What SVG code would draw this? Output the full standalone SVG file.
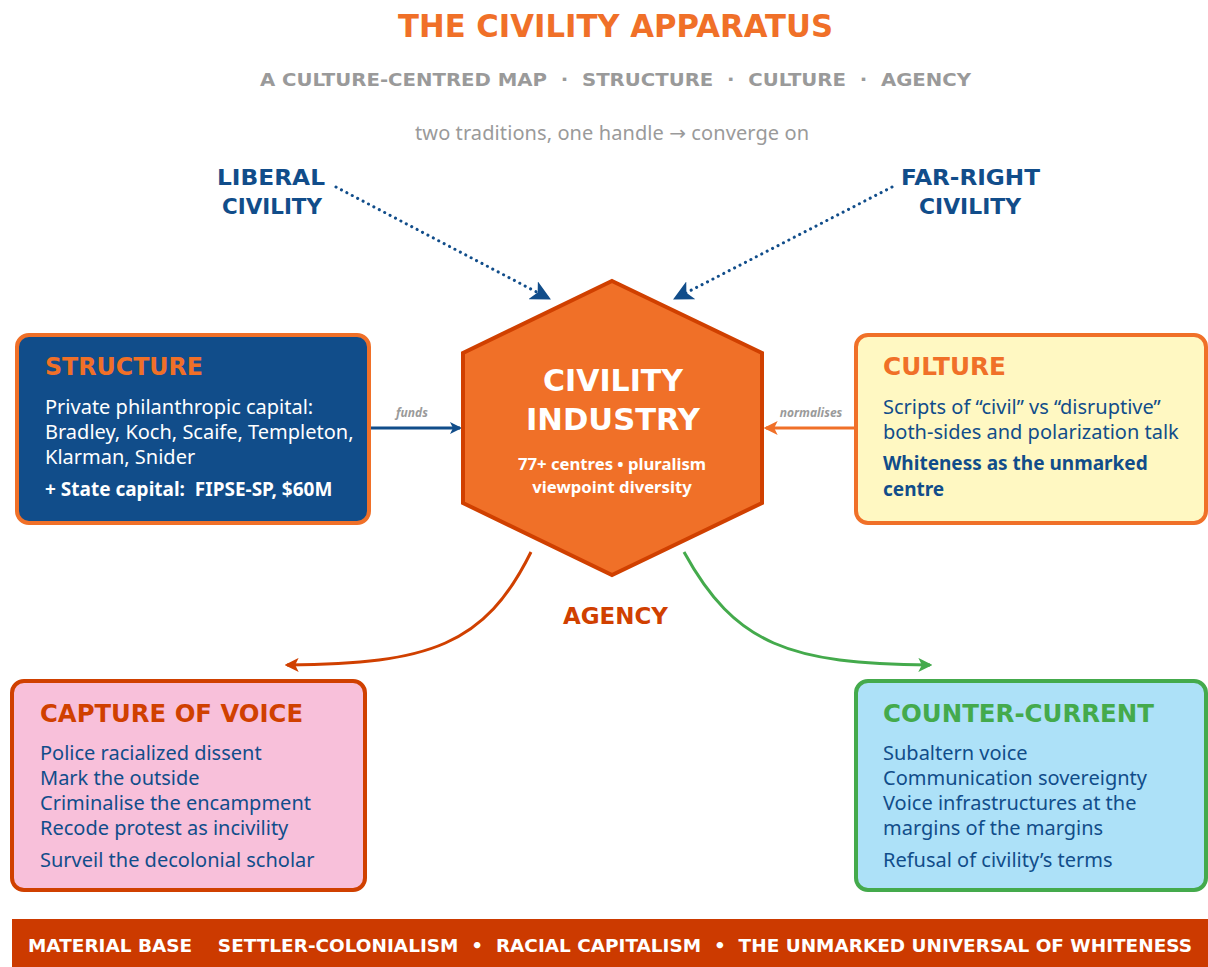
<svg xmlns="http://www.w3.org/2000/svg" width="1208" height="967" viewBox="0 0 1208 967">
  <style>
    .head { font-family: "DejaVu Sans", "Open Sans", sans-serif; font-weight: 700; }
    .body { font-family: "Noto Sans", "Liberation Sans", sans-serif; font-size: 20px; }
    .bold { font-weight: 700; font-size: 19px; }
    .hexnote { font-family: "Noto Sans", "Liberation Sans", sans-serif; font-weight: 700; font-size: 16.7px; }
    .title { font-size: 32px; fill: #F07028; }
    .sub { font-size: 18px; fill: #9A9A9A; }
    .note { font-family: "Noto Sans", sans-serif; font-size: 20px; fill: #9A9A9A; }
    .trad { font-size: 22px; fill: #114D8A; }
    .boxhead { font-size: 24px; }
    .edge-label { font-family: "Noto Sans", sans-serif; font-size: 12px; font-style: italic; font-weight: 700; fill: #9A9A9A; }
    .dotted { fill: none; stroke: #114D8A; stroke-width: 3; stroke-dasharray: 0.1 6; stroke-linecap: round; }
  </style>
  <defs>
    <marker id="arrBlue" viewBox="0 0 12 12" refX="10" refY="6" markerWidth="12" markerHeight="12" markerUnits="userSpaceOnUse" orient="auto">
      <path d="M0,0 L12,6 L0,12 L3,6 Z" fill="#114D8A"/>
    </marker>
    <marker id="arrBlueBig" viewBox="0 0 12 12" refX="10" refY="6" markerWidth="20" markerHeight="20" markerUnits="userSpaceOnUse" orient="auto">
      <path d="M0,0 L12,6 L0,12 L3,6 Z" fill="#114D8A"/>
    </marker>
    <marker id="arrOrange" viewBox="0 0 12 12" refX="10" refY="6" markerWidth="14" markerHeight="14" markerUnits="userSpaceOnUse" orient="auto">
      <path d="M0,0 L12,6 L0,12 L3,6 Z" fill="#F07028"/>
    </marker>
    <marker id="arrRed" viewBox="0 0 12 12" refX="10" refY="6" markerWidth="14" markerHeight="14" markerUnits="userSpaceOnUse" orient="auto">
      <path d="M0,0 L12,6 L0,12 L3,6 Z" fill="#D04000"/>
    </marker>
    <marker id="arrGreen" viewBox="0 0 12 12" refX="10" refY="6" markerWidth="14" markerHeight="14" markerUnits="userSpaceOnUse" orient="auto">
      <path d="M0,0 L12,6 L0,12 L3,6 Z" fill="#44AA4C"/>
    </marker>
  </defs>

  <rect width="1208" height="967" fill="#FFFFFF"/>

  <!-- heading block -->
  <g id="header" text-anchor="middle">
    <text class="head title" x="615.5" y="37" textLength="435" lengthAdjust="spacingAndGlyphs">THE CIVILITY APPARATUS</text>
    <text class="head sub" x="615.5" y="86" textLength="711" lengthAdjust="spacingAndGlyphs" xml:space="preserve">A CULTURE-CENTRED MAP  ·  STRUCTURE  ·  CULTURE  ·  AGENCY</text>
    <text class="note" x="612" y="140" textLength="394">two traditions, one handle <tspan font-family="DejaVu Sans">→</tspan> converge on</text>
  </g>

  <!-- connectors -->
  <g id="connectors">
    <path class="dotted" d="M336,187 L548,298" marker-end="url(#arrBlueBig)"/>
    <path class="dotted" d="M892,187 L676,298" marker-end="url(#arrBlueBig)"/>
    <path d="M371,428 L460,428" stroke="#114D8A" stroke-width="3" fill="none" marker-end="url(#arrBlue)"/>
    <text class="edge-label" x="412" y="417" text-anchor="middle">funds</text>
    <path d="M856,428 L766,428" stroke="#F07028" stroke-width="3" fill="none" marker-end="url(#arrOrange)"/>
    <text class="edge-label" x="811" y="417" text-anchor="middle">normalises</text>
    <path d="M531,552 C485,645 430,664 287,665" stroke="#D04000" stroke-width="3" fill="none" marker-end="url(#arrRed)"/>
    <path d="M684,552 C735,645 790,664 930,665" stroke="#44AA4C" stroke-width="3" fill="none" marker-end="url(#arrGreen)"/>
    <text class="head" x="615.5" y="624" text-anchor="middle" font-size="23" fill="#D04000" textLength="105" lengthAdjust="spacingAndGlyphs">AGENCY</text>
  </g>

  <!-- traditions -->
  <g id="liberal" text-anchor="middle">
    <text class="head trad" x="271" y="185" textLength="108" lengthAdjust="spacingAndGlyphs">LIBERAL</text>
    <text class="head trad" x="272" y="214" textLength="100" lengthAdjust="spacingAndGlyphs">CIVILITY</text>
  </g>
  <g id="far-right" text-anchor="middle">
    <text class="head trad" x="970.5" y="185" textLength="139" lengthAdjust="spacingAndGlyphs">FAR-RIGHT</text>
    <text class="head trad" x="970" y="214" textLength="102" lengthAdjust="spacingAndGlyphs">CIVILITY</text>
  </g>

  <!-- centre -->
  <g id="civility-industry">
    <polygon points="612,281 762,353 762,503 612,575 463,503 463,353" fill="#F07028" stroke="#D04000" stroke-width="4" stroke-linejoin="miter"/>
    <g text-anchor="middle" fill="#FFFFFF">
      <text class="head" x="613" y="391" font-size="31" textLength="140" lengthAdjust="spacingAndGlyphs">CIVILITY</text>
      <text class="head" x="613" y="430" font-size="31" textLength="174" lengthAdjust="spacingAndGlyphs">INDUSTRY</text>
      <text class="hexnote" x="612" y="470">77+ centres • pluralism</text>
      <text class="hexnote" x="612" y="493">viewpoint diversity</text>
    </g>
  </g>

  <!-- structure -->
  <g id="structure">
    <rect x="17" y="335" width="352" height="188" rx="12" fill="#114D8A" stroke="#F07028" stroke-width="4"/>
    <text class="head boxhead" x="45" y="375" fill="#F07028" textLength="158" lengthAdjust="spacingAndGlyphs">STRUCTURE</text>
    <g class="body" fill="#FFFFFF">
      <text x="45" y="414">Private philanthropic capital:</text>
      <text x="45" y="439">Bradley, Koch, Scaife, Templeton,</text>
      <text x="45" y="464">Klarman, Snider</text>
      <text x="45" y="496" class="bold" xml:space="preserve">+ State capital:  FIPSE-SP, $60M</text>
    </g>
  </g>

  <!-- culture -->
  <g id="culture">
    <rect x="856" y="335" width="350" height="188" rx="12" fill="#FFF8C2" stroke="#F07028" stroke-width="4"/>
    <text class="head boxhead" x="883" y="375" fill="#F07028" textLength="123" lengthAdjust="spacingAndGlyphs">CULTURE</text>
    <g class="body" fill="#114D8A">
      <text x="883" y="414">Scripts of “civil” vs “disruptive”</text>
      <text x="883" y="439">both-sides and polarization talk</text>
      <text x="883" y="470" class="bold">Whiteness as the unmarked</text>
      <text x="883" y="496" class="bold">centre</text>
    </g>
  </g>

  <!-- capture of voice -->
  <g id="capture">
    <rect x="12" y="681" width="353" height="209" rx="12" fill="#F8C0DA" stroke="#D04000" stroke-width="4"/>
    <text class="head boxhead" x="40" y="722" fill="#D04000" textLength="263" lengthAdjust="spacingAndGlyphs">CAPTURE OF VOICE</text>
    <g class="body" fill="#114D8A">
      <text x="40" y="760">Police racialized dissent</text>
      <text x="40" y="785">Mark the outside</text>
      <text x="40" y="810">Criminalise the encampment</text>
      <text x="40" y="835">Recode protest as incivility</text>
      <text x="40" y="867">Surveil the decolonial scholar</text>
    </g>
  </g>

  <!-- counter-current -->
  <g id="counter">
    <rect x="856" y="681" width="350" height="209" rx="12" fill="#ADE1F8" stroke="#44AA4C" stroke-width="4"/>
    <text class="head boxhead" x="883" y="722" fill="#44AA4C" textLength="271" lengthAdjust="spacingAndGlyphs">COUNTER-CURRENT</text>
    <g class="body" fill="#114D8A">
      <text x="883" y="760">Subaltern voice</text>
      <text x="883" y="785">Communication sovereignty</text>
      <text x="883" y="810">Voice infrastructures at the</text>
      <text x="883" y="835">margins of the margins</text>
      <text x="883" y="867">Refusal of civility’s terms</text>
    </g>
  </g>

  <!-- base banner -->
  <g id="material-base">
    <rect x="12" y="919" width="1196" height="48" fill="#CC3A00"/>
    <text class="head" x="610" y="952" text-anchor="middle" font-size="17" fill="#FFFFFF" textLength="1164" lengthAdjust="spacingAndGlyphs" xml:space="preserve">MATERIAL BASE    SETTLER-COLONIALISM  •  RACIAL CAPITALISM  •  THE UNMARKED UNIVERSAL OF WHITENESS</text>
  </g>
</svg>
